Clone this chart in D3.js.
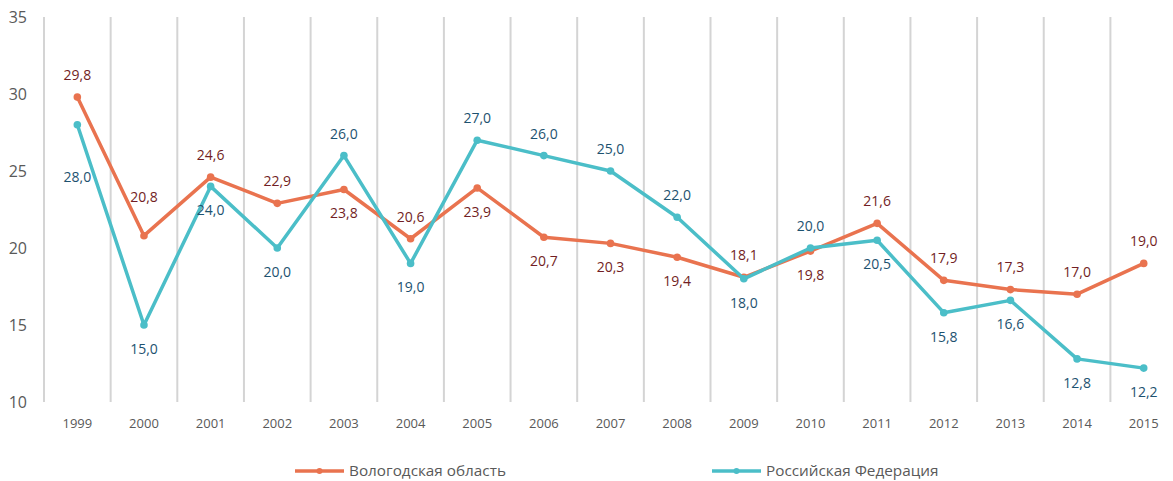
<!DOCTYPE html>
<html>
<head>
<meta charset="utf-8">
<script src="https://cdn.jsdelivr.net/npm/d3@7"></script>
<style>
  html, body { margin: 0; padding: 0; background: #fff; }
  svg { display: block; font-family: "Open Sans", sans-serif; }
</style>
</head>
<body>
<svg id="chart" width="1173" height="481"></svg>
<script>
const years = ["1999","2000","2001","2002","2003","2004","2005","2006","2007","2008","2009","2010","2011","2012","2013","2014","2015"];
const vologda = [29.8,20.8,24.6,22.9,23.8,20.6,23.9,20.7,20.3,19.4,18.1,19.8,21.6,17.9,17.3,17.0,19.0];
const russia  = [28.0,15.0,24.0,20.0,26.0,19.0,27.0,26.0,25.0,22.0,18.0,20.0,20.5,15.8,16.6,12.8,12.2];
const vologdaLabelSide = ["t","tt","t","t","b","t","b","b","b","b","t","b","t","t","t","t","t"];
const russiaLabelSide  = ["bb","b","b","b","t","b","t","t","t","t","b","t","b","b","b","b","b"];
const yTicks = [10,15,20,25,30,35];
const seriesNames = ["Вологодская область","Российская Федерация"];

(function () {
const svg = d3.select("#chart");
const plotLeft = 44, step = 66.65, plotTop = 17, plotBottom = 402;

const x = d3.scaleBand().domain(years).range([plotLeft, plotLeft + step * years.length]).paddingInner(0).paddingOuter(0);
const y = d3.scaleLinear().domain([10, 35]).range([plotBottom, plotTop]);
const cx = d => x(d) + x.bandwidth() / 2;

// vertical gridlines at category boundaries
svg.append("g").selectAll("line").data(years).join("line")
  .attr("x1", d => x(d)).attr("x2", d => x(d))
  .attr("y1", y(35)).attr("y2", y(10))
  .attr("stroke", "#d4d4d4").attr("stroke-width", 2);

// y axis labels
const yAxis = svg.append("g").attr("transform", "translate(27,0)")
  .call(d3.axisLeft(y).tickValues(yTicks).tickSize(0).tickPadding(0).tickFormat(d3.format("d")));
yAxis.select(".domain").remove();
yAxis.selectAll("text").attr("font-family", "Open Sans").attr("font-size", 16).attr("fill", "#595959");

// x axis labels
const xAxis = svg.append("g").attr("transform", `translate(0,${plotBottom})`)
  .call(d3.axisBottom(x).tickSize(0));
xAxis.select(".domain").remove();
xAxis.selectAll("text").attr("y", 21).attr("dy", "0.35em")
  .attr("font-family", "Open Sans").attr("font-size", 13).attr("fill", "#595959");

const fmt = v => d3.format(".1f")(v).replace(".", ",");
const offsets = { t: -22, tt: -39, b: 24, bb: 52 };

const series = [
  { name: seriesNames[0], values: vologda, sides: vologdaLabelSide, color: "#E9734F", labelColor: "#721E24" },
  { name: seriesNames[1], values: russia, sides: russiaLabelSide, color: "#4BBEC8", labelColor: "#1D5270" }
];

const line = d3.line().x((d, i) => cx(years[i])).y(d => y(d));

series.forEach(s => {
  const g = svg.append("g");
  g.append("path").datum(s.values)
    .attr("d", line).attr("fill", "none")
    .attr("stroke", s.color).attr("stroke-width", 3.5).attr("stroke-linejoin", "round");
  g.selectAll("circle").data(s.values).join("circle")
    .attr("cx", (d, i) => cx(years[i])).attr("cy", d => y(d))
    .attr("r", 3.8).attr("fill", s.color);
});

series.forEach(s => {
  svg.append("g").selectAll("text").data(s.values).join("text")
    .attr("x", (d, i) => cx(years[i]))
    .attr("y", (d, i) => y(d) + offsets[s.sides[i]])
    .attr("dy", "0.35em").attr("text-anchor", "middle")
    .attr("font-family", "Open Sans").attr("font-size", 14)
    .attr("fill", s.labelColor)
    .text(d => fmt(d));
});

// legend
const legendItems = [
  { s: series[0], x0: 295 },
  { s: series[1], x0: 712 }
];
const ly = 471;
legendItems.forEach(it => {
  const g = svg.append("g");
  g.append("line").attr("x1", it.x0).attr("x2", it.x0 + 49).attr("y1", ly).attr("y2", ly)
    .attr("stroke", it.s.color).attr("stroke-width", 3.5);
  g.append("circle").attr("cx", it.x0 + 24.5).attr("cy", ly).attr("r", 3).attr("fill", it.s.color);
  g.append("text").attr("x", it.x0 + 54).attr("y", ly).attr("dy", "0.35em")
    .attr("font-family", "Open Sans").attr("font-size", 15.3).attr("fill", "#595959")
    .text(it.s.name);
});
})();
</script>
</body>
</html>
